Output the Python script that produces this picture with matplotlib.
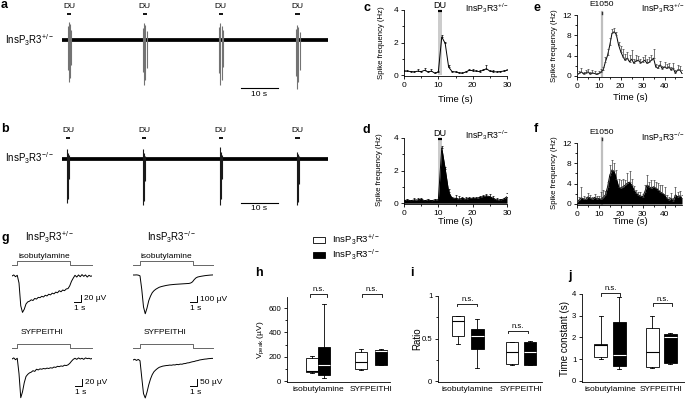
import numpy as np
import matplotlib
matplotlib.use("Agg")
import matplotlib.pyplot as plt
from matplotlib.patches import Rectangle
from matplotlib.ticker import MultipleLocator
from matplotlib.transforms import blended_transform_factory as btf

plt.rcParams['font.family'] = ['Liberation Sans', 'DejaVu Sans']
plt.rcParams['mathtext.default'] = 'regular'
plt.rcParams['axes.linewidth'] = 0.6

# ---------------- data ----------------
HET = 'InsP$_3$R3$^{+/-}$'
KO = 'InsP$_3$R3$^{-/-}$'

# a / b : raw recordings (time in s, amplitude in arbitrary trace units)
trace_len = 72
a_du_times = [1.9, 22.4, 43.0, 63.8]
a_spike_t = [1.5, 1.8, 2.1, 2.4, 22.0, 22.3, 22.6, 22.9, 42.6, 42.9, 43.2, 43.5, 63.4, 63.7, 64.0, 64.3]
a_spike_up = [14, 18, 16, 10, 12, 17, 15, 9, 13, 17, 14, 10, 11, 15, 13, 8]
a_spike_dn = [-30, -42, -38, -25, -32, -45, -40, -28, -33, -45, -40, -27, -36, -49, -42, -30]
b_du_times = [1.6, 22.2, 43.0, 63.8]
b_spike_t = [1.4, 1.7, 2.0, 22.0, 22.3, 22.6, 42.8, 43.1, 43.4, 63.6, 63.9, 64.2]
b_spike_up = [10, 6, 4, 10, 6, 3, 12, 7, 4, 7, 5, 3]
b_spike_dn = [-44, -40, -20, -46, -42, -22, -46, -40, -20, -46, -43, -25]

# c / d : DU responses (1-s bins)
cd_t = list(range(31))
c_mean = [0.25, 0.25, 0.22, 0.2, 0.25, 0.22, 0.3, 0.2, 0.25, 0.12, 0.2, 2.35, 1.95, 0.5, 0.22, 0.2,
          0.15, 0.12, 0.2, 0.3, 0.28, 0.25, 0.22, 0.3, 0.4, 0.25, 0.22, 0.2, 0.22, 0.25, 0.3]
c_err = [0.05, 0.05, 0.05, 0.05, 0.1, 0.05, 0.15, 0.05, 0.1, 0.05, 0.05, 0.1, 0.1, 0.1, 0.05, 0.05,
         0.05, 0.05, 0.08, 0.1, 0.1, 0.08, 0.08, 0.08, 0.2, 0.08, 0.08, 0.05, 0.05, 0.05, 0.05]
d_mean = [0.15, 0.2, 0.15, 0.2, 0.2, 0.25, 0.15, 0.2, 0.15, 0.2, 0.2, 3.4, 2.1, 0.7, 0.3, 0.3,
          0.25, 0.3, 0.25, 0.3, 0.3, 0.3, 0.35, 0.4, 0.45, 0.4, 0.3, 0.2, 0.2, 0.25, 0.4]
d_err = [0.05, 0.05, 0.05, 0.1, 0.1, 0.05, 0.05, 0.05, 0.05, 0.05, 0.05, 0.1, 0.15, 0.15, 0.1, 0.2,
         0.2, 0.1, 0.1, 0.1, 0.1, 0.1, 0.1, 0.1, 0.1, 0.15, 0.15, 0.1, 0.05, 0.05, 0.2]
du_on, du_off = 10, 11

# e / f : E1050 responses (1-s bins)
ef_t = list(range(49))
e_mean = [0.3, 0.5, 0.8, 0.4, 0.6, 0.8, 0.4, 0.6, 0.5, 0.3, 0.5, 0.8, 1.2, 2.8, 4.1, 6.1, 8.4, 8.7, 8.1,
          6.1, 4.8, 3.8, 3.1, 3.5, 2.8, 3.3, 2.5, 3.0, 3.1, 2.6, 2.8, 3.1, 2.5, 2.7, 3.1, 3.5, 1.8, 1.5,
          2.2, 1.4, 1.8, 1.5, 1.8, 1.2, 1.5, 0.5, 1.2, 1.2, 0.5]
e_err = [0.2, 0.4, 0.8, 0.3, 0.5, 0.6, 0.3, 0.5, 0.5, 0.3, 0.4, 0.5, 0.6, 1.0, 1.3, 1.3, 0.8, 0.8, 0.6,
         0.6, 1.1, 1.6, 1.3, 1.3, 1.3, 1.9, 0.8, 1.2, 0.8, 0.8, 1.0, 1.0, 0.8, 1.1, 1.1, 1.9, 0.6, 0.7,
         0.8, 0.6, 1.0, 0.8, 0.7, 0.6, 1.0, 0.6, 1.0, 0.8, 0.6]
f_mean = [0.45, 0.8, 1.2, 1.0, 0.9, 1.4, 1.2, 0.9, 1.3, 1.0, 1.1, 0.9, 1.3, 1.8, 3.4, 5.7, 6.7, 6.4, 5.0,
          3.4, 3.1, 3.4, 3.7, 4.1, 4.3, 3.7, 2.8, 2.1, 1.8, 1.6, 1.4, 2.4, 3.7, 3.4, 3.1, 3.4, 3.1, 2.8,
          2.4, 2.1, 1.8, 1.1, 0.8, 1.1, 0.6, 1.8, 1.4, 1.6, 1.1]
f_err = [0.3, 0.5, 2.2, 0.5, 0.5, 0.7, 0.5, 0.4, 0.6, 0.5, 0.5, 1.5, 1.5, 0.8, 1.0, 2.0, 2.0, 1.6, 1.6,
         1.6, 1.6, 1.6, 1.0, 2.0, 2.1, 1.3, 0.8, 0.7, 0.6, 0.8, 0.6, 1.3, 2.0, 1.0, 1.6, 1.3, 1.3, 1.3,
         1.3, 1.6, 1.6, 0.6, 0.5, 1.0, 0.5, 1.6, 1.0, 0.9, 0.6]
e1050_time = 11.5

# g : EOG traces (µV), sampled every 0.25 s
g_dt = 0.25
g_het_iso = [0, 3, -2, 2, -20, -85, -104, -95, -80, -74, -72, -68, -70, -64, -66, -61, -62, -58, -60, -55,
             -57, -52, -54, -49, -51, -46, -48, -42, -45, -40, -42, -37, -36, -28, -15, -6, 2, -3, 3, -2,
             4, -1, 3, -3, 2, -1, 1]
g_ko_iso = [0, 0, 2, -2, -15, -250, -560, -680, -580, -450, -370, -310, -275, -250, -232, -215, -205,
            -197, -190, -183, -178, -173, -170, -167, -164, -162, -160, -158, -156, -154, -152, -150,
            -148, -140, -120, -80, -50, -35, -28, -22, -17, -12, -8, -5, -2, 0, 2]
g_het_syf = [0, 3, -2, 2, -40, -106, -90, -65, -48, -42, -38, -36, -32, -34, -28, -30, -27, -28, -26,
             -27, -25, -26, -24, -25, -22, -23, -20, -21, -19, -20, -17, -18, -16, -12, -6, -1, 2, -1,
             3, 0, 2, -1, 3, 1, 2, 0, 2]
g_ko_syf = [0, 5, -3, 4, -5, -120, -230, -260, -220, -170, -130, -100, -80, -68, -58, -50, -46, -42,
            -40, -38, -37, -35, -36, -33, -34, -30, -32, -28, -29, -25, -24, -20, -19, -15, -12, -10,
            -6, -4, 0, 2, 4, 6, 7, 9, 10, 11, 11]
stim_het = (0.7, 8.3)
stim_ko = (1.0, 8.6)

# h / i / j : box plots (whislo, q1, median, q3, whishi) for [isobutylamine, SYFPEITHI]
groups = ['isobutylamine', 'SYFPEITHI']
h_het = [[65, 78, 89, 192, 211], [92, 100, 157, 238, 267]]
h_ko = [[30, 51, 138, 281, 632], [131, 132, 246, 259, 267]]
i_het = [[0.44, 0.53, 0.71, 0.77, 0.77], [0.19, 0.20, 0.34, 0.46, 0.46]]
i_ko = [[0.15, 0.38, 0.53, 0.61, 0.73], [0.19, 0.19, 0.34, 0.46, 0.47]]
j_het = [[1.0, 1.1, 1.63, 1.68, 3.0], [0.58, 0.63, 1.33, 2.45, 2.98]]
j_ko = [[0.57, 0.7, 1.17, 2.72, 3.85], [0.8, 0.82, 2.0, 2.17, 2.2]]

# ---------------- layout helpers ----------------
W, H = 685, 400
fig = plt.figure(figsize=(W / 100, H / 100), dpi=100)


def pax(x0, y0, x1, y1):
    ax = fig.add_axes([x0 / W, 1 - y1 / H, (x1 - x0) / W, (y1 - y0) / H])
    ax.set_facecolor('none')
    return ax


ov = fig.add_axes([0, 0, 1, 1], zorder=20)
ov.set_xlim(0, W)
ov.set_ylim(H, 0)
ov.axis('off')


def T(x, y, s, size=6, ha='center', **kw):
    ov.text(x, y, s, fontsize=size, ha=ha, va='center', **kw)


def letter(x, y, s):
    ov.text(x, y, s, fontsize=9, fontweight='bold', ha='left', va='center')


def style(ax, lsize=6):
    for sp in ('top', 'right'):
        ax.spines[sp].set_visible(False)
    ax.tick_params(which='major', length=2.5, width=0.6, labelsize=lsize, pad=1.5)
    ax.tick_params(which='minor', length=1.5, width=0.6)


# ---------------- a / b ----------------
def raw_panel(y0, y1, base_lim, du_times, st, up, dn, spike_color, du_y, bar_y, sb_y, sbt_y):
    ax = pax(62, y0, 328, y1)
    ax.set_xlim(0, trace_len)
    ax.set_ylim(*base_lim)
    ax.axis('off')
    ax.plot([0, trace_len], [0, 0], color='k', lw=2.7, solid_capstyle='butt')
    ax.vlines(st, dn, up, color=spike_color, lw=0.8)
    for t in du_times:
        ax.text(t, du_y, 'DU', fontsize=6, ha='center', va='center')
        ax.plot([t - 0.6, t + 0.6], [bar_y, bar_y], color='k', lw=1.3, solid_capstyle='butt')
    ax.plot([48.4, 58.4], [sb_y, sb_y], color='k', lw=0.8, clip_on=False)
    ax.text(53.4, sbt_y, '10 s', fontsize=6, ha='center', va='center')
    return ax


raw_panel(0, 100, (-60, 40), a_du_times, a_spike_t, a_spike_up, a_spike_dn, '0.45', 33, 26, -48, -55)
raw_panel(110, 210, (-51, 49), b_du_times, b_spike_t, b_spike_up, b_spike_dn, '0.1', 28, 21, -44, -50)
T(5, 40, HET, size=7, ha='left')
T(5, 158, KO, size=7, ha='left')
letter(1, 5, 'a')
letter(1, 129, 'b')


# ---------------- c / d ----------------
def du_panel(y0, y1, mean, err, filled):
    ax = pax(404, y0, 507, y1)
    ax.set_xlim(0, 30)
    ax.set_ylim(-0.05, 4)
    style(ax)
    ax.fill_between([du_on, du_off], 0, 3.9, color='0.8', lw=0, zorder=1)
    ax.plot([du_on, du_off + 0.2], [3.92, 3.92], color='k', lw=1.6, solid_capstyle='butt', clip_on=False)
    ax.text((du_on + du_off) / 2, 4.3, 'DU', fontsize=6.5, ha='center', va='center', clip_on=False)
    if filled:
        ax.fill_between(cd_t, 0, mean, color='k', lw=0, zorder=2)
    ax.plot(cd_t, mean, color='k', lw=0.7, zorder=3)
    ax.errorbar(cd_t, mean, yerr=[np.zeros(len(err)), err], fmt='none', ecolor='k', elinewidth=0.5,
                capsize=1.0, capthick=0.5, zorder=3)
    ax.set_yticks([0, 2, 4])
    ax.yaxis.set_minor_locator(MultipleLocator(1))
    ax.set_xticks([0, 10, 20, 30])
    ax.xaxis.set_minor_locator(MultipleLocator(5))
    return ax


du_panel(10, 76, c_mean, c_err, False)
du_panel(138, 204, d_mean, d_err, True)
T(382, 43, 'Spike frequency (Hz)', size=5.6, rotation=90)
T(380, 170, 'Spike frequency (Hz)', size=5.6, rotation=90)
T(455, 99, 'Time (s)', size=6.8)
T(455, 221, 'Time (s)', size=6.8)
T(487, 8, HET, size=6.3)
T(487, 135, KO, size=6.3)
letter(364, 8, 'c')
letter(363, 130, 'd')


# ---------------- e / f ----------------
def e_panel(y0, y1, mean, err, filled, line_top):
    ax = pax(577, y0, 682, y1)
    ax.set_xlim(0, 48)
    ax.set_ylim(-0.2, 12)
    style(ax)
    ax.plot([e1050_time, e1050_time], [0, line_top], color='0.75', lw=1.6, clip_on=False, zorder=1)
    ax.plot([e1050_time, e1050_time], [line_top - 0.4, line_top], color='0.2', lw=1.0, clip_on=False)
    if filled:
        ax.fill_between(ef_t, 0, mean, color='k', lw=0, zorder=2)
    ax.plot(ef_t, mean, color='k', lw=0.7, zorder=3)
    ax.errorbar(ef_t, mean, yerr=[np.zeros(len(err)), err], fmt='none', ecolor='0.25', elinewidth=0.5,
                capsize=1.0, capthick=0.5, zorder=3)
    ax.set_yticks([0, 4, 8, 12])
    ax.yaxis.set_minor_locator(MultipleLocator(2))
    ax.set_xticks([0, 10, 20, 30, 40])
    ax.xaxis.set_minor_locator(MultipleLocator(5))
    return ax


e_panel(15, 77, e_mean, e_err, False, 12.6)
e_panel(143, 205, f_mean, f_err, True, 13.0)
T(602, 4, 'E1050', size=6)
T(602, 132, 'E1050', size=6)
T(555, 46, 'Spike frequency (Hz)', size=5.6, rotation=90)
T(555, 173, 'Spike frequency (Hz)', size=5.6, rotation=90)
T(630, 98, 'Time (s)', size=6.8)
T(630, 221, 'Time (s)', size=6.8)
T(663, 8, HET, size=6.3)
T(663, 137, KO, size=6.3)
letter(534, 8, 'e')
letter(534, 129, 'f')


# ---------------- g ----------------
def g_trace(x0, y0, y1, base_px, uv_per_px, vals, stim, st_low, st_high, sb_uv, sb_label, sb_xpx, sb_ypx):
    ax = pax(x0, y0, x0 + 80, y1)
    n = len(vals)
    t = np.arange(n) * g_dt
    tmax = 80 / 7.0
    ax.set_xlim(0, tmax)
    ax.set_ylim(-(y1 - base_px) * uv_per_px, (base_px - y0) * uv_per_px)
    ax.axis('off')
    ax.plot(t, vals, color='k', lw=0.7)
    tr = btf(ax.transData, ov.transData)
    ax.plot([0, stim[0], stim[0], stim[1], stim[1], tmax],
            [st_low, st_low, st_high, st_high, st_low, st_low], color='0.4', lw=0.7, transform=tr,
            clip_on=False)
    # scale bar
    tb = (sb_xpx - x0) / 7.0
    vb = -(sb_ypx - base_px) * uv_per_px
    ax.plot([tb - 1, tb, tb], [vb, vb, vb + sb_uv], color='k', lw=0.7, clip_on=False)
    ax.text(tb + 0.4, vb + sb_uv / 2, sb_label, fontsize=6, ha='left', va='center')
    ax.text(tb - 1, vb - 7 * uv_per_px, '1 s', fontsize=6, ha='left', va='center')
    return ax


g_trace(12, 250, 320, 276, 20 / 7.0, g_het_iso, stim_het, 265, 261, 20, '20 µV', 81, 302)
g_trace(133, 250, 320, 275, 100 / 5.7, g_ko_iso, stim_ko, 265, 261, 100, '100 µV', 197, 302)
g_trace(12, 335, 400, 359, 20 / 7.3, g_het_syf, stim_het, 348, 344, 20, '20 µV', 82, 386)
g_trace(133, 335, 400, 360, 50 / 7.3, g_ko_syf, stim_ko, 348, 344, 50, '50 µV', 197, 386)
T(44, 256, 'isobutylamine')
T(166, 256, 'isobutylamine')
T(42, 333, 'SYFPEITHI')
T(165, 333, 'SYFPEITHI')
T(25, 237, HET, size=7, ha='left')
T(147, 237, KO, size=7, ha='left')
letter(2, 238, 'g')

# legend
ov.add_patch(Rectangle((313, 237), 12, 6, fc='white', ec='k', lw=0.6))
ov.add_patch(Rectangle((313, 252), 12, 6, fc='k', ec='k', lw=0.6))
T(332, 240, HET, size=6.8, ha='left')
T(332, 255, KO, size=6.8, ha='left')


# ---------------- h / i / j ----------------
def box_panel(x0, x1, y0, y1, ylim, xlim, het, ko, offs, width, capw, ns_y, ns_drop, ns_span):
    ax = pax(x0, y0, x1, y1)
    style(ax, lsize=5.6)
    pos_het = [1 - offs[0], 2 - offs[1]]
    pos_ko = [1 + offs[0], 2 + offs[1]]
    keys = ['whislo', 'q1', 'med', 'q3', 'whishi']
    for data, pos, fc, mc in ((het, pos_het, 'white', 'k'), (ko, pos_ko, 'k', 'white')):
        stats = [dict(zip(keys, d), fliers=[]) for d in data]
        ax.bxp(stats, positions=pos, widths=width, patch_artist=True, showfliers=False,
               capwidths=capw, manage_ticks=False,
               boxprops=dict(facecolor=fc, edgecolor='k', lw=0.6),
               medianprops=dict(color=mc, lw=0.8),
               whiskerprops=dict(color='k', lw=0.6), capprops=dict(color='k', lw=0.6))
    for g, (yb, sp) in enumerate(zip(ns_y, ns_span)):
        c = g + 1
        ax.plot([c + sp[0], c + sp[0], c + sp[1], c + sp[1]], [yb - ns_drop, yb, yb, yb - ns_drop],
                color='k', lw=0.6, clip_on=False)
        ax.text(c + (sp[0] + sp[1]) / 2, yb + ns_drop * 1.6, 'n.s.', fontsize=5.5, ha='center',
                va='center', clip_on=False)
    ax.set_ylim(*ylim)
    ax.set_xlim(*xlim)
    ax.set_xticks([1, 2])
    ax.set_xticklabels(groups, fontsize=6)
    ax.tick_params(axis='x', length=0, pad=3)
    return ax


axh = box_panel(287, 390, 297, 382, (-5, 690), (0.415, 2.358), h_het, h_ko, (0.115, 0.19), 0.236, 0.075,
                [714, 714], 24, [(-0.15, 0.17), (-0.17, 0.21)])
axh.set_yticks([0, 200, 400, 600])
axh.yaxis.set_minor_locator(MultipleLocator(100))
axi = box_panel(438, 542, 296, 382, (-0.01, 1.0), (0.439, 2.40), i_het, i_ko, (0.18, 0.17), 0.236, 0.075,
                [0.91, 0.59], 0.03, [(-0.2, 0.18), (-0.24, 0.14)])
axi.set_yticks([0, 0.5, 1])
axi.set_yticklabels(['0', '0.5', '1'])
axi.yaxis.set_minor_locator(MultipleLocator(0.25))
axj = box_panel(582, 685, 294, 382, (-0.05, 4.0), (0.454, 2.463), j_het, j_ko, (0.185, 0.18), 0.254, 0.078,
                [4.05, 3.57], 0.12, [(-0.17, 0.2), (-0.16, 0.2)])
axj.set_yticks([0, 1, 2, 3, 4])

T(261, 340, 'V$_{peak}$ (µV)', size=6, rotation=90)
T(417, 339, 'Ratio', size=7, rotation=90)
T(565, 338, 'Time constant (s)', size=7, rotation=90)
letter(255, 273, 'h')
letter(410, 273, 'i')
letter(568, 276, 'j')

fig.savefig('out.png', dpi=100)
